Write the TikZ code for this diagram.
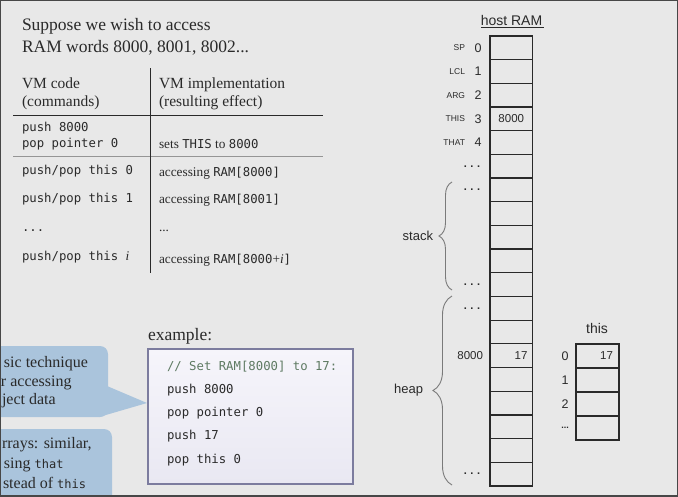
\documentclass[tikz,border=0pt]{standalone}
\usepackage{fontspec}
\setmainfont{Liberation Serif}
\newfontfamily\monof{DejaVu Sans Mono}
\newfontfamily\sansf{Liberation Sans}
\usetikzlibrary{decorations.pathreplacing}
\definecolor{bg}{HTML}{E8E8E8}
\definecolor{frame}{HTML}{474747}
\definecolor{ink}{HTML}{2A2A2A}
\definecolor{callblue}{HTML}{AAC4DC}
\definecolor{exborder}{HTML}{7C7C9E}
\definecolor{extop}{HTML}{F6F5FB}
\definecolor{exbot}{HTML}{E9E8F2}
\definecolor{cmt}{HTML}{5E7A62}
\definecolor{bracec}{HTML}{7A7A7A}
\newcommand\vmcode[1]{{\monof\fontsize{12.3}{14}\selectfont #1}}
\newcommand\cmono[1]{{\monof\fontsize{12}{13}\selectfont #1}}
\begin{document}
\begin{tikzpicture}[x=1pt,y=-1pt,
  every node/.style={inner sep=0pt,outer sep=0pt,text=ink},
  titletext/.style={anchor=base west,font=\fontsize{17.5}{20}\selectfont},
  hdrtext/.style={anchor=base west,font=\fontsize{15.5}{18}\selectfont},
  codetext/.style={anchor=base west,font=\monof\fontsize{12.3}{14}\selectfont},
  celltext/.style={anchor=base west,font=\fontsize{13.3}{16}\selectfont},
  calltext/.style={anchor=base west,font=\fontsize{16}{19}\selectfont},
  ramcell/.style={draw=ink,line width=1.3pt,minimum width=42.5pt,minimum height=23.68pt},
  thiscell/.style={draw=ink,line width=1.3pt,minimum width=43pt,minimum height=24pt},
  idx/.style={font=\sansf\fontsize{12.5}{14}\selectfont},
  reg/.style={anchor=east,font=\sansf\fontsize{8.5}{10}\selectfont},
  val/.style={font=\sansf\fontsize{11.5}{13}\selectfont},
  dots/.style={font=\sansf\bfseries\fontsize{11}{12}\selectfont},
  bracelbl/.style={anchor=east,font=\sansf\fontsize{13}{15}\selectfont},
  bracepath/.style={draw=bracec,line width=0.9pt,decorate},
  callout/.style={fill=callblue},
  tblrule/.style={draw=ink,line width=1.3pt},
  tblthin/.style={draw=ink!50,line width=0.8pt}
]
\useasboundingbox (0,0) rectangle (678,496);
\fill[bg] (0,0) rectangle (678,496);

% ---------- heading ----------
\node[titletext] (h1) at (22,30) {Suppose we wish to access};
\node[titletext] (h2) at (22,52) {RAM words 8000, 8001, 8002...};

% ---------- table ----------
\draw[tblrule] (13,115.5) -- (323,115.5);
\draw[tblthin] (13,156) -- (323,156);
\draw[draw=ink,line width=1pt] (150.3,68) -- (150.3,273);
\node[hdrtext] (c1a) at (22,88) {VM code};
\node[hdrtext] (c1b) at (22,106) {(commands)};
\node[hdrtext] (c2a) at (159,88) {VM implementation};
\node[hdrtext] (c2b) at (159,106) {(resulting effect)};
\node[codetext] (r1a) at (22,131) {push 8000};
\node[codetext] (r1b) at (22,147) {pop pointer 0};
\node[celltext] (r1c) at (159,148) {sets \vmcode{THIS} to \vmcode{8000}};
\node[codetext] (r2a) at (22,174) {push/pop this 0};
\node[celltext] (r2b) at (159,176) {accessing \vmcode{RAM[8000]}};
\node[codetext] (r3a) at (22,202) {push/pop this 1};
\node[celltext] (r3b) at (159,203) {accessing \vmcode{RAM[8001]}};
\node[codetext] (r4a) at (22,231) {...};
\node[celltext] (r4b) at (159,231) {...};
\node[codetext] (r5a) at (22,260) {push/pop this {\rmfamily\itshape\fontsize{13.3}{16}\selectfont i}};
\node[celltext] (r5b) at (159,263) {accessing \vmcode{RAM[8000}+\textit{i}\vmcode{]}};

% ---------- callouts ----------
\fill[callout,rounded corners=8pt] (-20,346) -- (108,346) -- (108,417) -- (-20,417) -- cycle;
\fill[callout] (107,386) -- (147,403) -- (99,417) -- (100,395) -- cycle;
\node[calltext] (k1) at (4,367) {sic technique};
\node[calltext] (k2) at (1,386) {r accessing};
\node[calltext] (k3) at (2,404) {ject data};
\fill[callout,rounded corners=8pt] (-20,429) -- (112,429) -- (112,520) -- (-20,520) -- cycle;
\node[calltext] (k4) at (2,448) {rrays: similar,};
\node[calltext] (k5) at (4,468) {sing \cmono{that}};
\node[calltext] (k6) at (3,488) {stead of \cmono{this}};

% ---------- example box ----------
\node[titletext] (exl) at (148,340) {example:};
\node[draw=exborder,line width=1.5pt,top color=extop,bottom color=exbot,
      minimum width=205pt,minimum height=135pt] (ex) at (250.5,416.5) {};
\node[codetext,text=cmt] (e0) at (167,370) {// Set RAM[8000] to 17:};
\node[codetext] (e1) at (167,393) {push 8000};
\node[codetext] (e2) at (167,416) {pop pointer 0};
\node[codetext] (e3) at (167,439) {push 17};
\node[codetext] (e4) at (167,463) {pop this 0};

% ---------- host RAM ----------
\node[anchor=base,font=\sansf\fontsize{14}{16}\selectfont] (hr) at (511.5,25) {host RAM};
\draw[ink,line width=0.8pt] (hr.base west) ++(0,2.3) -- ++(63.5,0) coordinate (hrend);
\foreach \r in {0,...,18}{
  \node[ramcell] (ram\r) at (511.25,{36+23.68*\r+11.84}) {};
}
\foreach \r/\lab in {0/SP,1/LCL,2/ARG,3/THIS,4/THAT}{
  \node[idx] (ix\r) at ([xshift=-12pt]ram\r.west) {\r};
  \node[reg] (rg\r) at ([xshift=-25pt]ram\r.west) {\lab};
}
\node[val] (v3) at (ram3.center) {8000};
\foreach \r in {5,6,10,11,18}{
  \node[dots] (d\r) at ([xshift=-18pt]ram\r.west) {.\,\,.\,\,.};
}
\node[val,anchor=east] (h8000) at ([xshift=-7pt]ram13.west) {8000};
\node[val,anchor=east] (v13) at ([xshift=-5pt]ram13.east) {17};

% braces
\coordinate (sb) at (452,290);
\coordinate (st) at (452,182);
\coordinate (hb) at (452,485);
\coordinate (ht) at (452,296);
\draw[bracepath,decoration={brace,amplitude=13pt}] (sb) -- (st);
\draw[bracepath,decoration={brace,amplitude=19pt}] (hb) -- (ht);
\node[bracelbl] (stk) at (433,236) {stack};
\node[bracelbl] (hp) at (423,390) {heap};

% ---------- this array ----------
\node[anchor=base,font=\sansf\fontsize{14}{16}\selectfont] (tt) at (597,333) {this};
\foreach \r in {0,...,3}{
  \node[thiscell] (th\r) at (597.5,{344+24*\r+12}) {};
}
\foreach \r/\lab in {0/0,1/1,2/2}{
  \node[idx] (ti\r) at ([xshift=-11pt]th\r.west) {\lab};
}
\node[font=\sansf\bfseries\fontsize{9}{10}\selectfont] (ti3) at ([xshift=-11pt]th3.west) {...};
\node[val,anchor=east] (tv0) at ([xshift=-6pt]th0.east) {17};

% frame
\draw[frame,line width=2.5pt] (0,0) rectangle (678,496);
\end{tikzpicture}
\end{document}
